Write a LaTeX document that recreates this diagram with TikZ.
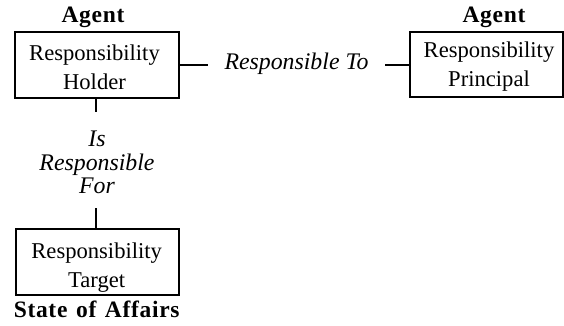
\documentclass[tikz,border=0pt]{standalone}
\usepackage{fontspec}
\setmainfont{Liberation Serif}
\begin{document}
\begin{tikzpicture}[x=1pt,y=-1pt,
  box/.style={draw,line width=1.7pt,rectangle,inner sep=0pt},
  boxtext/.style={anchor=base,inner sep=0pt,align=center,font=\fontsize{22.6}{29}\selectfont},
  role/.style={anchor=base,inner sep=0pt,font=\bfseries\fontsize{23.5}{26}\selectfont\addfontfeature{LetterSpace=3}},
  rel/.style={anchor=base,font=\itshape\fontsize{23.8}{23.3}\selectfont,align=center,inner sep=0pt},
  link/.style={line width=1.6pt}]
\useasboundingbox (0,0) rectangle (564,325);
% boxes
\node[box,minimum width=164pt,minimum height=66pt] (holder) at (97,65) {};
\node[box,minimum width=153pt,minimum height=65pt] (principal) at (486.5,64.5) {};
\node[box,minimum width=163pt,minimum height=66pt] (target) at (97.5,262) {};
% box texts (anchor base = baseline of last line)
\node[boxtext] (holdertxt) at (94.5,89.5) {Responsibility\\Holder};
\node[boxtext] (principaltxt) at (489,86.5) {Responsibility\\Principal};
\node[boxtext] (targettxt) at (96.7,287) {Responsibility\\Target};
% role labels
\node[role] (agent1) at (93,22.5) {Agent};
\node[role] (agent2) at (494,22.5) {Agent};
\node[role] (soa) at (96.7,317) {State\hspace{2pt} of\hspace{2pt} Affairs};
% relation labels
\node[rel] (rt) at (296.5,69) {Responsible To};
\node[rel] (rf) at (97,193.3) {Is\\Responsible\\For};
% connectors
\coordinate (a1) at (208,65);
\coordinate (a2) at (385,65);
\coordinate (b1) at (96,112);
\coordinate (b2) at (96,208);
\draw[link] (holder.east |- a1) -- (a1);
\draw[link] (a2) -- (principal.west |- a2);
\draw[link] (b1 |- holder.south) -- (b1);
\draw[link] (b2) -- (b2 |- target.north);
\end{tikzpicture}
\end{document}
